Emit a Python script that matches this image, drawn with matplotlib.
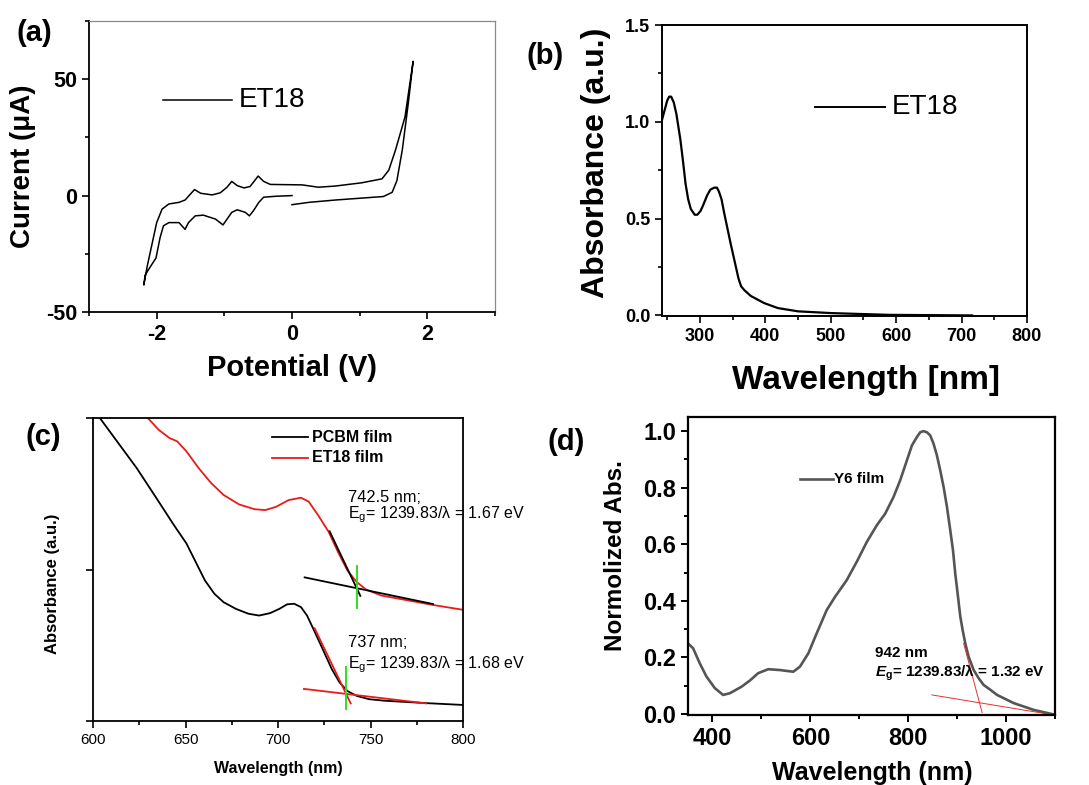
import matplotlib
matplotlib.use("Agg")
import matplotlib.pyplot as plt
from matplotlib.ticker import MultipleLocator, FixedLocator, FormatStrFormatter

plt.rcParams['font.family'] = ['Liberation Sans', 'DejaVu Sans']
plt.rcParams['axes.unicode_minus'] = False
plt.rcParams['mathtext.fontset'] = 'custom'
plt.rcParams['mathtext.rm'] = 'Liberation Sans'
plt.rcParams['mathtext.it'] = 'Liberation Sans:italic'
plt.rcParams['mathtext.bf'] = 'Liberation Sans:bold'
plt.rcParams['mathtext.bfit'] = 'Liberation Sans:italic:bold'

# ---- (a) cyclic voltammogram of ET18 ----
cv_v = [0.0, -0.25, -0.42, -0.49, -0.57, -0.63, -0.69, -0.81, -0.89, -1.02, -1.13, -1.31,
        -1.43, -1.53, -1.58, -1.67, -1.82, -1.90, -1.95, -2.01, -2.09, -2.17, -2.19,
        -2.14, -2.07, -2.0, -1.92, -1.82, -1.67, -1.58, -1.50, -1.44, -1.35, -1.18, -1.06,
        -0.96, -0.89, -0.81, -0.71, -0.62, -0.55, -0.50, -0.42, -0.32, 0.15, 0.39, 0.64,
        1.03, 1.33, 1.43, 1.53, 1.67, 1.79,
        1.72, 1.63, 1.55, 1.48, 1.35, 0.64, 0.25, 0.0]
cv_i = [0.0, -0.3, -0.7, -2.9, -6.5, -8.7, -7.2, -6.1, -7.2, -12.6, -10.1, -8.4,
        -8.7, -11.6, -14.5, -11.6, -11.6, -13.0, -18.1, -26.8, -30.4, -34.1, -38.4,
        -30.4, -21.0, -11.6, -5.8, -3.6, -2.9, -1.9, 0.7, 2.6, 1.0, 0.3, 1.2,
        3.6, 6.1, 4.3, 3.3, 3.9, 6.5, 8.4, 6.1, 4.8, 4.6, 3.6, 4.1,
        5.5, 7.2, 10.9, 19.6, 33.8, 57.7,
        40.0, 19.6, 6.4, 1.4, -0.4, -1.9, -2.9, -3.9]

# ---- (b) solution absorbance of ET18 ----
wl_b = [242, 246, 250, 253, 256, 260, 264, 270, 274, 278, 282, 286, 292, 296, 301, 305,
        311, 316, 322, 326, 329, 333, 337, 342, 347, 351, 355, 359, 363, 368, 378, 398,
        419, 450, 501, 588, 716]
abs_b = [1.01, 1.06, 1.11, 1.13, 1.13, 1.10, 1.04, 0.91, 0.80, 0.68, 0.60, 0.55, 0.52,
         0.52, 0.54, 0.57, 0.62, 0.65, 0.66, 0.66, 0.64, 0.60, 0.53, 0.45, 0.37, 0.31,
         0.25, 0.19, 0.15, 0.13, 0.10, 0.064, 0.038, 0.021, 0.012, 0.003, 0.0]

# ---- (c) film absorbance edges ----
wl_pcbm = [603.7, 613.7, 623.7, 633.8, 643.8, 650.5, 655.5, 660.5, 665.6, 670.6, 677.3,
           684.0, 689.8, 695.7, 700.7, 704.9, 708.7, 712.4, 715.7, 719.1, 724.1, 729.1,
           733.3, 737.5, 742.5, 749.2, 757.5, 765.8, 780.2, 800]
abs_pcbm = [1.0, 0.917, 0.834, 0.740, 0.646, 0.586, 0.525, 0.464, 0.420, 0.392, 0.370,
            0.354, 0.348, 0.356, 0.370, 0.385, 0.387, 0.376, 0.348, 0.304, 0.238, 0.171,
            0.127, 0.099, 0.083, 0.072, 0.067, 0.064, 0.059, 0.053]
wl_et18 = [629.6, 635.5, 641.3, 645.5, 650.5, 657.2, 663.9, 670.6, 678.9, 687.3, 693.1,
           699.0, 705.7, 712.4, 716.6, 721.6, 727.4, 732.4, 737.5, 742.5, 747.5, 755.9,
           765.8, 783.8, 800]
abs_et18 = [1.0, 0.961, 0.934, 0.923, 0.890, 0.834, 0.785, 0.746, 0.715, 0.699, 0.696,
            0.707, 0.729, 0.737, 0.724, 0.680, 0.624, 0.558, 0.497, 0.459, 0.434, 0.414,
            0.403, 0.383, 0.367]
# tangent lines (x pair, y pair)
et18_base_x, et18_base_y = [714.4, 783.8], [0.474, 0.386]
et18_edge_x, et18_edge_y = [727.9, 744.5], [0.626, 0.413]
et18_onset_x, et18_onset_y = [742.5, 742.5], [0.51, 0.372]
pcbm_base_x, pcbm_base_y = [714.0, 780.2], [0.106, 0.058]
pcbm_edge_x, pcbm_edge_y = [719.8, 739.3], [0.306, 0.058]
pcbm_onset_x, pcbm_onset_y = [737.0, 737.0], [0.177, 0.040]

# ---- (d) Y6 film ----
wl_y6 = [350.2, 360.4, 374, 387.7, 404.8, 421.8, 435.5, 459.4, 476.5, 493.5, 514, 537.9,
         565.2, 578.8, 595.9, 613, 633.4, 650.5, 674.4, 694.9, 715.4, 735.8, 752.9, 770,
         783.6, 800.7, 807.5, 817.7, 824.6, 831.4, 838.2, 845, 851.9, 858.7, 865.5, 872.4,
         879.2, 886, 891.5, 896.2, 901.0, 906.5, 911.3, 916.7, 923.5, 933.8, 944, 954.3,
         968, 981.6, 1015.7, 1056.6, 1100]
abs_y6 = [0.249, 0.232, 0.179, 0.132, 0.091, 0.067, 0.073, 0.096, 0.118, 0.144, 0.158,
          0.155, 0.149, 0.167, 0.214, 0.285, 0.367, 0.414, 0.473, 0.538, 0.608, 0.667,
          0.708, 0.767, 0.826, 0.914, 0.949, 0.979, 0.996, 1.0, 0.996, 0.985, 0.955,
          0.914, 0.861, 0.802, 0.732, 0.649, 0.579, 0.496, 0.426, 0.344, 0.296, 0.249,
          0.202, 0.155, 0.126, 0.102, 0.085, 0.067, 0.038, 0.014, -0.003]
y6_edge_x, y6_edge_y = [913.3, 951.0], [0.249, 0.005]
y6_base_x, y6_base_y = [848.5, 1097.6], [0.067, -0.004]

W, H = 1089, 785
fig = plt.figure(figsize=(W / 100, H / 100), dpi=100)


def box(l, t, r, b):
    return [l / W, 1 - b / H, (r - l) / W, (b - t) / H]


def ftext(x, y, s, **kw):
    fig.text(x / W, 1 - y / H, s, **kw)


def ax_px(ax, x, y):
    # figure pixel (from top-left) -> axes fraction
    p = ax.get_position()
    return (x / W - p.x0) / p.width, ((1 - y / H) - p.y0) / p.height


def legend_entry(ax, x0, x1, y, label, color, lw, tx, **kw):
    a0 = ax_px(ax, x0, y)
    a1 = ax_px(ax, x1, y)
    ax.plot([a0[0], a1[0]], [a0[1], a1[1]], transform=ax.transAxes, color=color, lw=lw,
            clip_on=False)
    at = ax_px(ax, tx, y)
    ax.text(at[0], at[1], label, transform=ax.transAxes, va='center', ha='left', **kw)


def style_ticks(ax, size, lw=1.2):
    ax.tick_params(which='major', direction='out', length=5, width=lw, labelsize=size)
    ax.tick_params(which='minor', direction='out', length=3, width=lw)


# ===== (a) =====
ax1 = fig.add_axes(box(89, 21, 495, 312))
ax1.plot(cv_v, cv_i, color='black', lw=1.1)
ax1.set_xlim(-3, 3)
ax1.set_ylim(-50, 75)
ax1.xaxis.set_major_locator(FixedLocator([-2, 0, 2]))
ax1.xaxis.set_minor_locator(FixedLocator([-3, -1, 1, 3]))
ax1.yaxis.set_major_locator(FixedLocator([-50, 0, 50]))
ax1.yaxis.set_minor_locator(FixedLocator([-25, 25, 75]))
style_ticks(ax1, 15.5)
for t in ax1.get_xticklabels() + ax1.get_yticklabels():
    t.set_fontweight('bold')
for s in ['left', 'bottom']:
    ax1.spines[s].set_linewidth(1.3)
for s in ['top', 'right']:
    ax1.spines[s].set_color('#8a8a8a')
    ax1.spines[s].set_linewidth(0.9)
legend_entry(ax1, 163, 232, 100, 'ET18', 'black', 1.1, 239, fontsize=20)
ftext(23, 166, 'Current (μA)', fontsize=20, fontweight='bold', rotation=90, ha='center', va='center')
ftext(292, 368, 'Potential (V)', fontsize=21, fontweight='bold', ha='center', va='center')
ftext(34, 33, '(a)', fontsize=21, fontweight='bold', ha='center', va='center')

# ===== (b) =====
ax2 = fig.add_axes(box(662, 25, 1027, 316))
ax2.plot(wl_b, abs_b, color='black', lw=1.6)
ax2.set_xlim(242, 800)
ax2.set_ylim(-0.003, 1.5)
ax2.xaxis.set_major_locator(MultipleLocator(100))
ax2.xaxis.set_minor_locator(MultipleLocator(50))
ax2.yaxis.set_major_locator(MultipleLocator(0.5))
ax2.yaxis.set_minor_locator(MultipleLocator(0.25))
ax2.yaxis.set_major_formatter(FormatStrFormatter('%.1f'))
style_ticks(ax2, 13)
for t in ax2.get_xticklabels() + ax2.get_yticklabels():
    t.set_fontweight('bold')
for s in ax2.spines.values():
    s.set_linewidth(1.4)
legend_entry(ax2, 815, 885, 107, 'ET18', 'black', 1.4, 892, fontsize=20)
ftext(596, 163, 'Absorbance (a.u.)', fontsize=23, fontweight='bold', rotation=90,
      ha='center', va='center')
ftext(866, 381, 'Wavelength [nm]', fontsize=24, fontweight='bold', ha='center', va='center')
ftext(545, 56, '(b)', fontsize=21, fontweight='bold', ha='center', va='center')

# ===== (c) =====
red = '#ea1a1a'
ax3 = fig.add_axes(box(93, 418, 463, 721))
ax3.plot(wl_pcbm, abs_pcbm, color='black', lw=1.3)
ax3.plot(wl_et18, abs_et18, color=red, lw=1.3)
ax3.plot(et18_base_x, et18_base_y, color='black', lw=1.3)
ax3.plot(et18_edge_x, et18_edge_y, color='black', lw=1.3)
ax3.plot(et18_onset_x, et18_onset_y, color='#33dd22', lw=1.4)
ax3.plot(pcbm_base_x, pcbm_base_y, color=red, lw=1.3)
ax3.plot(pcbm_edge_x, pcbm_edge_y, color=red, lw=1.3)
ax3.plot(pcbm_onset_x, pcbm_onset_y, color='#33dd22', lw=1.4)
ax3.set_xlim(600, 800)
ax3.set_ylim(0, 1)
ax3.xaxis.set_major_locator(MultipleLocator(50))
ax3.xaxis.set_minor_locator(MultipleLocator(25))
ax3.yaxis.set_major_locator(FixedLocator([0, 0.5, 1]))
ax3.set_yticklabels([])
style_ticks(ax3, 11)
for s in ax3.spines.values():
    s.set_linewidth(1.3)
legend_entry(ax3, 272, 308, 437, 'PCBM film', 'black', 1.3, 312, fontsize=11.5, fontweight='bold')
legend_entry(ax3, 272, 308, 458, 'ET18 film', red, 1.3, 312, fontsize=11.5, fontweight='bold')
ftext(348, 502, '742.5 nm;', fontsize=11.8, va='baseline')
ftext(348, 518, 'E$_\\mathregular{g}$= 1239.83/λ = 1.67 eV', fontsize=11.5, va='baseline')
ftext(348, 647, '737 nm;', fontsize=11.8, va='baseline')
ftext(348, 668, 'E$_\\mathregular{g}$= 1239.83/λ = 1.68 eV', fontsize=11.5, va='baseline')
ftext(53, 584, 'Absorbance (a.u.)', fontsize=12, fontweight='bold', rotation=90,
      ha='center', va='center')
ftext(278, 768, 'Wavelength (nm)', fontsize=11.5, fontweight='bold', ha='center', va='center')
ftext(43, 437, '(c)', fontsize=21, fontweight='bold', ha='center', va='center')

# ===== (d) =====
ax4 = fig.add_axes(box(688, 417, 1055, 715))
ax4.plot(wl_y6, abs_y6, color='#555555', lw=1.9)
ax4.plot(y6_edge_x, y6_edge_y, color='#e83030', lw=0.7)
ax4.plot(y6_base_x, y6_base_y, color='#e83030', lw=0.7)
ax4.set_xlim(350, 1100)
ax4.set_ylim(-0.004, 1.05)
ax4.xaxis.set_major_locator(MultipleLocator(200))
ax4.xaxis.set_minor_locator(MultipleLocator(100))
ax4.yaxis.set_major_locator(MultipleLocator(0.2))
ax4.yaxis.set_minor_locator(MultipleLocator(0.1))
ax4.yaxis.set_major_formatter(FormatStrFormatter('%.1f'))
style_ticks(ax4, 17, lw=1.4)
for t in ax4.get_xticklabels() + ax4.get_yticklabels():
    t.set_fontweight('bold')
for s in ax4.spines.values():
    s.set_linewidth(1.6)
legend_entry(ax4, 800, 833, 479, 'Y6 film', '#555555', 1.9, 834, fontsize=11, fontweight='bold')
ftext(875, 657, '942 nm', fontsize=11, fontweight='bold', va='baseline')
ftext(875, 677, '$\\mathbfit{E}_\\mathbf{g}$= 1239.83/λ = 1.32 eV', fontsize=11,
      fontweight='bold', va='baseline')
ftext(615, 556, 'Normolized Abs.', fontsize=17.5, fontweight='bold', rotation=90,
      ha='center', va='center')
ftext(872, 773, 'Wavelength (nm)', fontsize=18, fontweight='bold', ha='center', va='center')
ftext(566, 442, '(d)', fontsize=21, fontweight='bold', ha='center', va='center')

fig.savefig('out.png', dpi=100)
